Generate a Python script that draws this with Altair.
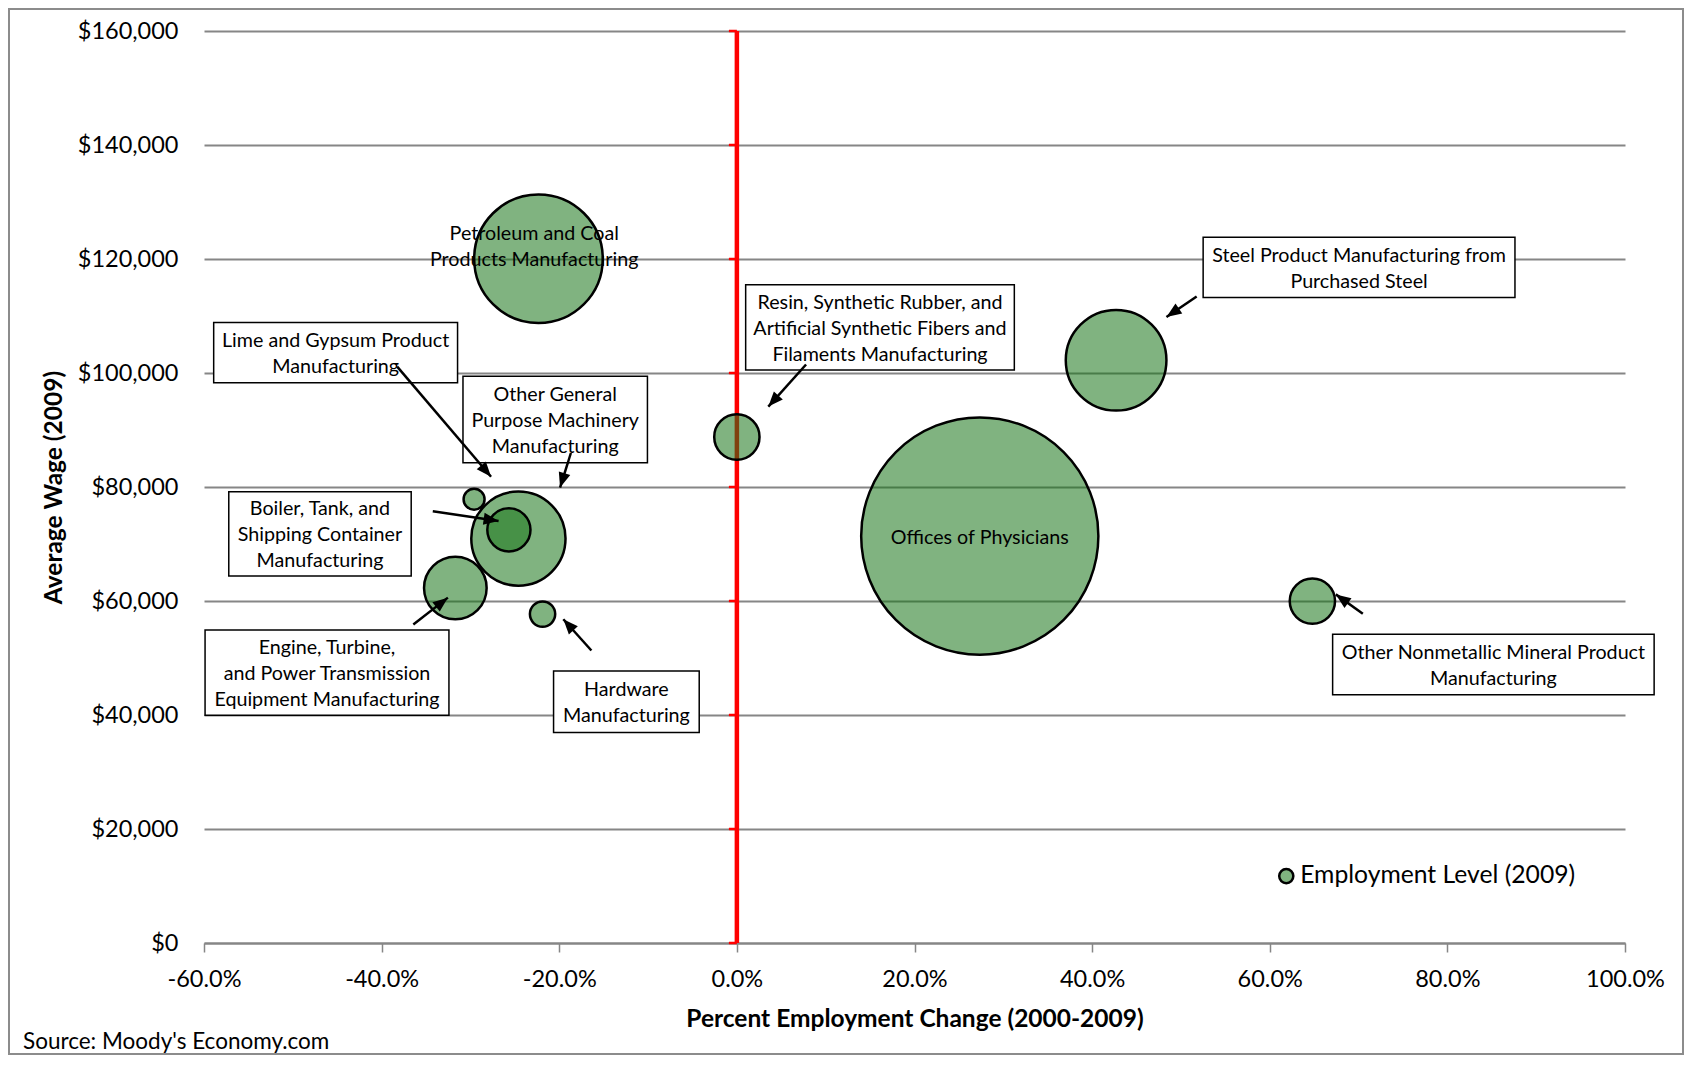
import math
import altair as alt
import pandas as pd

# ---------------- data ----------------
industries = [
    "Offices of Physicians",
    "Petroleum and Coal Products Manufacturing",
    "Steel Product Manufacturing from Purchased Steel",
    "Other General Purpose Machinery Manufacturing",
    "Engine, Turbine, and Power Transmission Equipment Manufacturing",
    "Resin, Synthetic Rubber, and Artificial Synthetic Fibers and Filaments Manufacturing",
    "Other Nonmetallic Mineral Product Manufacturing",
    "Boiler, Tank, and Shipping Container Manufacturing",
    "Hardware Manufacturing",
    "Lime and Gypsum Product Manufacturing",
]
pct_change = [27.35, -22.34, 42.70, -24.60, -31.70, 0.0, 64.80, -25.67, -21.88, -29.59]
avg_wage = [71400, 120050, 102230, 70950, 62280, 88770, 59990, 72480, 57700, 77860]
employment = [21100, 6200, 3800, 3330, 1470, 770, 770, 700, 240, 165]

# annotation boxes (label text, box bounds in data units)
box_text = [
    "Lime and Gypsum Product\nManufacturing",
    "Other General\nPurpose Machinery\nManufacturing",
    "Boiler, Tank, and\nShipping Container\nManufacturing",
    "Engine, Turbine,\nand Power Transmission\nEquipment Manufacturing",
    "Hardware\nManufacturing",
    "Resin, Synthetic Rubber, and\nArtificial Synthetic Fibers and\nFilaments Manufacturing",
    "Steel Product Manufacturing from\nPurchased Steel",
    "Other Nonmetallic Mineral Product\nManufacturing",
]
box_x1 = [-58.91, -30.84, -57.21, -59.88, -20.64, 0.99, 52.50, 67.08]
box_x2 = [-31.45, -10.07, -36.67, -32.42, -4.24, 31.24, 87.61, 103.28]
box_top = [108876, 99409, 79148, 54912, 47716, 115504, 123835, 54154]
box_bottom = [98273, 84261, 64379, 39953, 36923, 100545, 113231, 43551]

# labels drawn directly on bubbles
inline_text = ["Petroleum and Coal\nProducts Manufacturing", "Offices of Physicians"]
inline_x = [-22.82, 27.35]
inline_y = [122320, 71385]

# arrows (start -> tip)
arrow_x0 = [-38.25, -18.69, -34.24, -36.43, -16.38, 7.79, 51.77, 70.48]
arrow_y0 = [101113, 85965, 75740, 55858, 51314, 101492, 113421, 57752]
arrow_x1 = [-27.68, -19.91, -26.83, -32.54, -19.54, 3.54, 48.37, 67.44]
arrow_y1 = [81799, 79906, 74036, 60592, 56805, 94107, 109823, 61160]

x_ticks = [-60, -40, -20, 0, 20, 40, 60, 80, 100]
y_ticks = [0, 20000, 40000, 60000, 80000, 100000, 120000, 140000, 160000]

legend_label = ["Employment Level (2009)"]
legend_x = [61.86]
legend_y = [11740]
source_text = "Source: Moody's Economy.com"

# ---------------- layout / style ----------------
W, H = 1421, 912
X_DOMAIN = [-60, 100]
Y_DOMAIN = [0, 160000]
PX_PER_X = W / (X_DOMAIN[1] - X_DOMAIN[0])
PX_PER_Y = H / (Y_DOMAIN[1] - Y_DOMAIN[0])
FONT = "Lato"
GRID = "#868686"
FILL = "#187418"
R_MAX = 118.6
LINE_H = 26
ANN_SIZE = 19.7
TICK_SIZE = 23.5
TITLE_SIZE = 24.5

xs = alt.Scale(domain=X_DOMAIN, nice=False, zero=False)
ys = alt.Scale(domain=Y_DOMAIN, nice=False, zero=False)

x_axis = alt.Axis(
    values=x_ticks,
    labelExpr="(datum.value < 0 ? '-' : '') + format(abs(datum.value), '.1f') + '%'",
    title="Percent Employment Change (2000-2009)",
    domainColor=GRID, domainWidth=2,
    tickColor=GRID, tickWidth=1.5, tickSize=9,
    grid=False,
    labelFont=FONT, labelFontSize=TICK_SIZE, labelColor="black",
    labelPadding=27, labelBaseline="middle",
    labelFlush=False, labelOverlap=False,
    titleFont=FONT, titleFontSize=TITLE_SIZE, titleFontWeight="bold", titleColor="black",
    titleX=W / 2, titleY=76, titleAlign="center", titleBaseline="middle",
)
y_axis = alt.Axis(
    values=y_ticks, format="$,.0f",
    domain=False, ticks=False, tickSize=0,
    grid=True, gridColor=GRID, gridWidth=2,
    labelFont=FONT, labelFontSize=TICK_SIZE, labelColor="black", labelPadding=26,
    labelFlush=False, labelOverlap=False,
    title="Average Wage (2009)",
    titleFont=FONT, titleFontSize=TITLE_SIZE, titleFontWeight="bold", titleColor="black",
    titleX=-150, titleY=H / 2, titleAngle=270, titleAlign="center", titleBaseline="middle",
)


def X(field):
    return alt.X(field, type="quantitative", scale=xs, axis=x_axis)


def Y(field):
    return alt.Y(field, type="quantitative", scale=ys, axis=y_axis)


def first_line_y(center_y, text):
    # Vega places the first line at y; shift up so the block is centred
    n = text.count("\n") + 1
    return center_y + (n - 1) / 2 * LINE_H / PX_PER_Y


# ---------------- tables ----------------
bubbles_df = pd.DataFrame({"industry": industries, "x": pct_change, "y": avg_wage, "employment": employment})
boxes_df = pd.DataFrame({
    "text": box_text, "x": box_x1, "x2": box_x2, "y": box_top, "y2": box_bottom,
})
boxes_df["cx"] = (boxes_df["x"] + boxes_df["x2"]) / 2
boxes_df["cy"] = [first_line_y((t + b) / 2, s) for t, b, s in zip(box_top, box_bottom, box_text)]
inline_df = pd.DataFrame({
    "text": inline_text, "x": inline_x,
    "y": [first_line_y(v, s) for v, s in zip(inline_y, inline_text)],
})

angles = []
for a, b, c, d in zip(arrow_x0, arrow_y0, arrow_x1, arrow_y1):
    dx = (c - a) * PX_PER_X
    dy = -(d - b) * PX_PER_Y
    angles.append(math.degrees(math.atan2(dx, -dy)) % 360)
arrows_df = pd.DataFrame({"x": arrow_x0, "y": arrow_y0, "x2": arrow_x1, "y2": arrow_y1, "angle": angles})

zero_df = pd.DataFrame({"x": [0], "y": [Y_DOMAIN[0]], "y2": [Y_DOMAIN[1]]})
ticks_df = pd.DataFrame({"x": [0] * len(y_ticks), "y": y_ticks})
legend_df = pd.DataFrame({"x": legend_x, "y": legend_y, "label": legend_label})
legend_df["tx"] = legend_df["x"] + 1.57
source_df = pd.DataFrame({"text": [source_text]})
frame_df = pd.DataFrame({"k": [1]})

# ---------------- layers ----------------
frame = alt.Chart(frame_df).mark_rect(fill="white", fillOpacity=0, stroke="#8c8c8c", strokeWidth=2).encode(
    x=alt.value(-195), x2=alt.value(W + 58), y=alt.value(-22), y2=alt.value(H + 111)
)

red_line = alt.Chart(zero_df).mark_rule(color="#FF0000", strokeWidth=4.5).encode(
    x=X("x"), y=Y("y"), y2="y2:Q"
)
red_ticks = alt.Chart(ticks_df).mark_tick(color="#FF0000", orient="horizontal", size=8, thickness=2.5, xOffset=-4, opacity=1).encode(
    x=X("x"), y=Y("y")
)

bubbles = alt.Chart(bubbles_df).mark_point(
    shape="circle", filled=True, fill=FILL, fillOpacity=0.55, opacity=1,
    stroke="black", strokeWidth=2.5, strokeOpacity=1,
).encode(
    x=X("x"), y=Y("y"),
    size=alt.Size("employment:Q", scale=alt.Scale(domain=[0, max(employment)], range=[0, (2 * R_MAX) ** 2]), legend=None),
    order=alt.Order("employment:Q", sort="descending"),
    tooltip=["industry:N"],
)

inline_labels = alt.Chart(inline_df).mark_text(
    font=FONT, fontSize=ANN_SIZE, color="black", align="center", baseline="middle",
    lineBreak="\n", lineHeight=LINE_H, dy=1.5
).encode(x=X("x"), y=Y("y"), text="text:N")

boxes = alt.Chart(boxes_df).mark_rect(fill="white", stroke="black", strokeWidth=1.5).encode(
    x=X("x"), x2="x2:Q", y=Y("y"), y2="y2:Q"
)
box_labels = alt.Chart(boxes_df).mark_text(
    font=FONT, fontSize=ANN_SIZE, color="black", align="center", baseline="middle",
    lineBreak="\n", lineHeight=LINE_H, dy=1.5
).encode(x=X("cx"), y=Y("cy"), text="text:N")

arrow_lines = alt.Chart(arrows_df).mark_rule(color="black", strokeWidth=2.5).encode(
    x=X("x"), y=Y("y"), x2="x2:Q", y2="y2:Q"
)
arrow_heads = alt.Chart(arrows_df).mark_point(
    shape="M0,0L-0.4,1L0.4,1Z", filled=True, fill="black", opacity=1, size=900, strokeWidth=0
).encode(x=X("x2"), y=Y("y2"), angle=alt.Angle("angle:Q", scale=None))

legend_pt = alt.Chart(legend_df).mark_point(
    shape="circle", filled=True, fill="#80B380", opacity=1, stroke="black", strokeWidth=2.5, size=200
).encode(x=X("x"), y=Y("y"))
legend_txt = alt.Chart(legend_df).mark_text(
    font=FONT, fontSize=24.7, color="black", align="left", baseline="middle"
).encode(x=X("tx"), y=Y("y"), text="label:N")

source = alt.Chart(source_df).mark_text(
    font=FONT, fontSize=22.5, color="black", align="left", baseline="middle"
).encode(x=alt.value(-181), y=alt.value(H + 99), text="text:N")

chart = alt.layer(
    frame, red_line, red_ticks, bubbles, inline_labels, boxes, box_labels,
    arrow_lines, arrow_heads, legend_pt, legend_txt, source
).properties(
    width=W, height=H,
    autosize=alt.AutoSizeParams(type="none"),
    padding={"left": 196, "top": 23, "right": 59, "bottom": 113},
    background="white",
).configure_view(strokeWidth=0)

chart.save("out.html", embed_options={"renderer": "svg", "actions": False})
